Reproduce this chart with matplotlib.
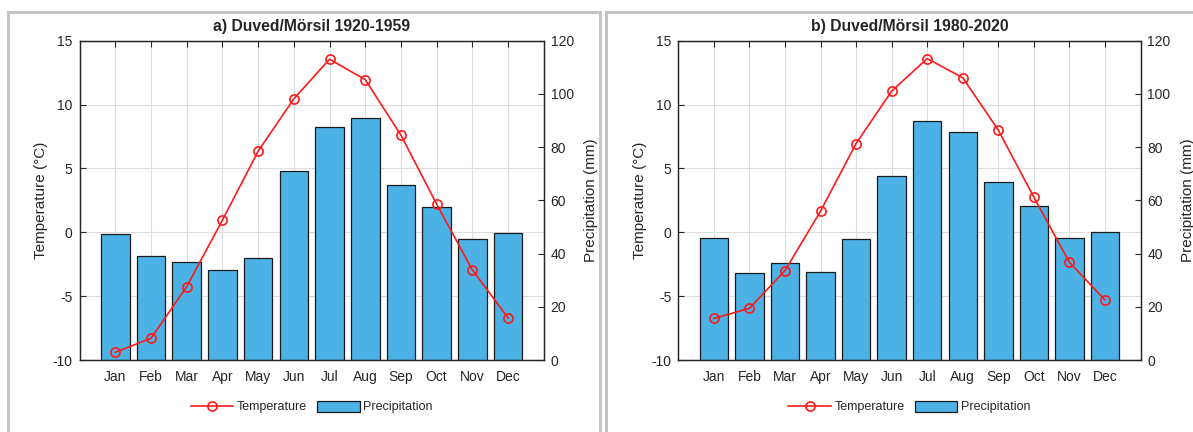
import matplotlib
matplotlib.use("Agg")
import matplotlib.pyplot as plt
from matplotlib.patches import Rectangle, Patch
from matplotlib.lines import Line2D

months = ["Jan", "Feb", "Mar", "Apr", "May", "Jun", "Jul", "Aug", "Sep", "Oct", "Nov", "Dec"]

titles = ["a) Duved/Mörsil 1920-1959", "b) Duved/Mörsil 1980-2020"]

temp_a = [-9.4, -8.3, -4.25, 0.95, 6.35, 10.45, 13.55, 11.95, 7.6, 2.2, -2.95, -6.7]
precip_a = [47.2, 39.2, 36.7, 33.9, 38.5, 70.9, 87.6, 90.8, 65.8, 57.6, 45.6, 47.6]

temp_b = [-6.75, -5.95, -3.0, 1.65, 6.95, 11.05, 13.6, 12.1, 8.0, 2.75, -2.35, -5.3]
precip_b = [46.0, 32.7, 36.3, 33.0, 45.6, 69.0, 90.0, 85.8, 66.9, 57.7, 46.0, 48.1]

temp_ticks = [-10, -5, 0, 5, 10, 15]
precip_ticks = [0, 20, 40, 60, 80, 100, 120]

plt.rcParams['font.family'] = ['Liberation Sans', 'DejaVu Sans']

W, H = 1193, 432
fig = plt.figure(figsize=(W / 100, H / 100), dpi=100)

TXT = '#262626'
BAR = '#4CB1E5'
GRID = '#DEDEDE'
RED = '#FF1A1A'

# panel borders
for (x0, x1) in [(8, 599.5), (606.5, 1200)]:
    fig.patches.append(Rectangle((x0 / W, -0.1), (x1 - x0) / W, 1.1 - 12 / H,
                                 transform=fig.transFigure, fill=False,
                                 edgecolor='#C4C4C4', linewidth=2.2, zorder=0))

axes_px = [(79.6, 543.8), (678.3, 1140.5)]
top_px, bot_px = 40.7, 360.0

datasets = [(temp_a, precip_a), (temp_b, precip_b)]
xs = list(range(1, 13))

for i, ((l, r), (temps, precs)) in enumerate(zip(axes_px, datasets)):
    rect = [l / W, 1 - bot_px / H, (r - l) / W, (bot_px - top_px) / H]
    ax1 = fig.add_axes(rect)           # temperature axis (grid, left)
    ax2 = ax1.twinx()                  # precipitation bars (right)
    ax3 = ax1.twinx()                  # temperature line on top
    ax1.set_zorder(1)
    ax2.set_zorder(2)
    ax3.set_zorder(3)
    ax2.patch.set_visible(False)
    ax3.patch.set_visible(False)

    ax1.set_xlim(0, 13)
    ax1.set_ylim(-10, 15)
    ax2.set_ylim(0, 120)
    ax3.set_ylim(-10, 15)

    ax2.bar(xs, precs, width=0.8, color=BAR, edgecolor='#1a1a1a', linewidth=0.9, zorder=2)
    ax3.plot(xs, temps, color=RED, linewidth=1.2, marker='o', markersize=6.6,
             markerfacecolor='none', markeredgecolor=RED, markeredgewidth=1.2)
    ax3.axis('off')

    ax1.set_xticks(xs)
    ax1.set_xticklabels(months)
    ax1.set_yticks(temp_ticks)
    ax1.set_yticklabels([str(t) for t in temp_ticks])
    ax2.set_yticks(precip_ticks)
    ax2.set_yticklabels([str(p) for p in precip_ticks])

    ax1.grid(True, color=GRID, linewidth=0.8)
    ax1.set_axisbelow(True)

    ax1.tick_params(axis='both', direction='in', length=4, width=0.8, colors=TXT,
                    labelsize=10, top=True, right=False)
    ax1.tick_params(axis='x', pad=7)
    ax1.tick_params(axis='y', pad=5)
    ax2.tick_params(axis='y', direction='in', length=4, width=0.8, colors=TXT,
                    labelsize=10, pad=5)

    for ax in (ax1, ax2):
        for s in ax.spines.values():
            s.set_color(TXT)
            s.set_linewidth(0.9)

    ax1.set_ylabel("Temperature (°C)", fontsize=11, color=TXT, labelpad=3)
    ax2.set_ylabel("Precipitation (mm)", fontsize=11, color=TXT, labelpad=7.5)

    cx = (l + r) / 2 / W
    fig.text(cx, 1 - 26.5 / H, titles[i], ha='center', va='center', fontsize=11.3,
             fontweight='bold', color=TXT)

    handles = [Line2D([], [], color=RED, linewidth=1.2, marker='o', markersize=6.6,
                      markerfacecolor='none', markeredgewidth=1.2),
               Patch(facecolor=BAR, edgecolor='#1a1a1a', linewidth=0.9)]
    fig.legend(handles, ["Temperature", "Precipitation"], loc='center',
               bbox_to_anchor=(cx, 1 - 407 / H), ncol=2, frameon=False, fontsize=9,
               handlelength=3.4, handleheight=1.0, handletextpad=0.3,
               columnspacing=0.8, labelcolor=TXT)

fig.savefig("out.png", dpi=100)
